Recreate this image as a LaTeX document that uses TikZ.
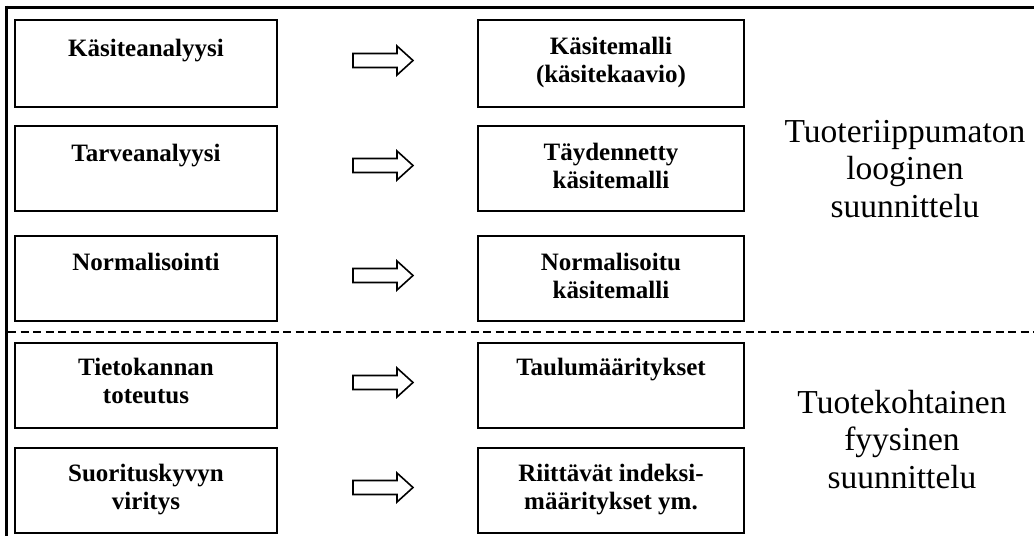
\documentclass[tikz,border=0pt]{standalone}
\usepackage{fontspec}
\setmainfont{Liberation Serif}
\usetikzlibrary{calc}
\begin{document}
\begin{tikzpicture}[x=1pt,y=-1pt,
  lbox/.style={draw, line width=2.4pt, minimum width=261.6pt, minimum height=84.6pt, inner sep=0pt, anchor=north west},
  rbox/.style={lbox, minimum width=265.6pt},
  boxtext/.style={font=\fontsize{25}{28}\selectfont\bfseries, align=center, anchor=north, inner sep=0pt},
  bigtext/.style={font=\fontsize{33.5}{37.5}\selectfont, align=center, anchor=north, inner sep=0pt},
  blockarrow/.style={draw, line width=1.6pt, line join=miter},
  frameline/.style={line width=3pt},
  divider/.style={line width=1.8pt, dash pattern=on 8pt off 4.5pt}]
\useasboundingbox (0,0) rectangle (1034,536);
% frame
\coordinate (FTL) at (6.5,7);
\coordinate (FTR) at (1034,7);
\coordinate (FBL) at (6.5,536);
\draw[frameline] ($(FTL)+(-1.5,0)$) -- (FTR);
\draw[frameline] ($(FTL)+(0,-1.5)$) -- (FBL);
% divider
\coordinate (DL) at (8,332);
\coordinate (DR) at (1034,332);
\draw[divider] (DL) -- (DR);
% boxes
\node[lbox, minimum height=86.6pt] (L1) at (14,19) {};
\node[lbox] (L2) at (14,125) {};
\node[lbox] (L3) at (14,235) {};
\node[lbox] (L4) at (14,342) {};
\node[lbox] (L5) at (14,447) {};
\node[rbox, minimum height=86.6pt] (R1) at (477,19) {};
\node[rbox] (R2) at (477,125) {};
\node[rbox] (R3) at (477,235) {};
\node[rbox] (R4) at (477,342) {};
\node[rbox] (R5) at (477,447) {};
% box texts
\node[boxtext] (tL1) at ($(L1.north)+(0,20)$) {Käsiteanalyysi};
\node[boxtext] (tL2) at ($(L2.north)+(0,19)$) {Tarveanalyysi};
\node[boxtext] (tL3) at ($(L3.north)+(0,18)$) {Normalisointi};
\node[boxtext] (tL4) at ($(L4.north)+(0,16)$) {Tietokannan\\toteutus};
\node[boxtext] (tL5) at ($(L5.north)+(0,17)$) {Suorituskyvyn\\viritys};
\node[boxtext] (tR1) at ($(R1.north)+(0,18)$) {Käsitemalli\\(käsitekaavio)};
\node[boxtext] (tR2) at ($(R2.north)+(0,18)$) {Täydennetty\\käsitemalli};
\node[boxtext] (tR3) at ($(R3.north)+(0,18)$) {Normalisoitu\\käsitemalli};
\node[boxtext] (tR4) at ($(R4.north)+(0,16)$) {Taulumääritykset};
\node[boxtext] (tR5) at ($(R5.north)+(0,17)$) {Riittävät indeksi-\\määritykset ym.};
% block arrows
\foreach \i in {1,...,5} {
  \coordinate (A\i) at ($(L\i.east)!0.5!(R\i.west)+(5.5,-3)$);
  \draw[blockarrow] (A\i) ++(-30,-7) -- ++(44,0) -- ++(0,-7.5) -- ++(16,14.5)
     -- ++(-16,14.5) -- ++(0,-7.5) -- ++(-44,0) -- cycle;
}
% side texts
\node[bigtext] (S1) at (905,120) {Tuoteriippumaton\\looginen\\suunnittelu};
\node[bigtext] (S2) at (902,390) {Tuotekohtainen\\fyysinen\\suunnittelu};
\end{tikzpicture}
\end{document}
